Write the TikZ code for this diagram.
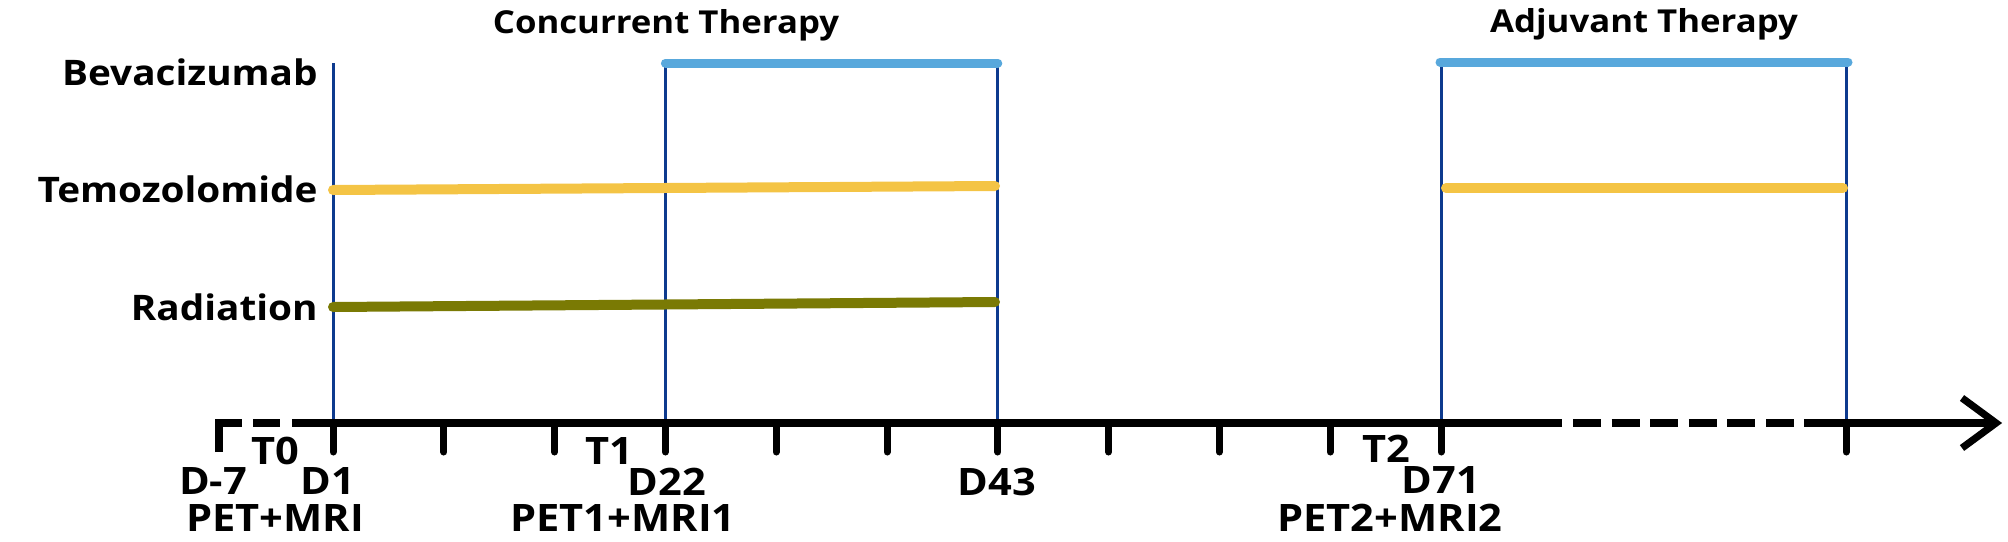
\documentclass[tikz,border=0pt]{standalone}
\usepackage{fontspec}
\setmainfont{Open Sans}
\newfontfamily\wfont{Open Sans}[FakeStretch=1.1]
\usetikzlibrary{calc}
\definecolor{navy}{HTML}{0D3A8E}
\definecolor{bevblue}{HTML}{58A8DC}
\definecolor{temyel}{HTML}{F4C445}
\definecolor{radolive}{HTML}{7A7A04}
\begin{document}
\begin{tikzpicture}[x=0.5pt,y=-0.5pt,
  lab/.style={anchor=base,inner sep=0pt,text depth=0pt,font=\wfont\fontsize{18.9pt}{20pt}\selectfont\bfseries},
  rowlab/.style={anchor=base east,inner sep=0pt,font=\wfont\fontsize{17.6pt}{19pt}\selectfont\bfseries},
  ttl/.style={anchor=base,inner sep=0pt,font=\wfont\fontsize{15.8pt}{17pt}\selectfont\bfseries},
  vline/.style={draw=navy,line width=1.5pt},
  axisline/.style={draw=black,line width=4pt},
  tickmark/.style={draw=black,line width=3.5pt,line cap=round},
  bar/.style={line width=4.5pt,line cap=round}]
\useasboundingbox (0,0) rectangle (2008,541);
% grid coordinates
\foreach \n/\x in {a/333,b/665.4,c/997.8,d/1441,e/1846}{
  \coordinate (top\n) at (\x,63);
  \coordinate (bot\n) at (\x,423);
}
% vertical lines
\foreach \n in {a,b,c,d,e}{ \draw[vline] (top\n) -- (bot\n); }
% bars
\draw[bar,draw=bevblue] (topb) -- (topc);
\coordinate (bl2) at (1440,62); \coordinate (br2) at (1848,62);
\draw[bar,draw=bevblue] (bl2) -- (br2);
\coordinate (tyl) at (333,190); \coordinate (tyr) at (995,186);
\draw[bar,line width=5pt,draw=temyel] (tyl) -- (tyr);
\coordinate (tyl2) at (1446,188); \coordinate (tyr2) at (1843,188);
\draw[bar,line width=5pt,draw=temyel] (tyl2) -- (tyr2);
\coordinate (ryl) at (333,307); \coordinate (ryr) at (995,302);
\draw[bar,line width=5pt,draw=radolive] (ryl) -- (ryr);
% axis
\coordinate (ax0) at (219,452);
\coordinate (ax1) at (219,423);
\coordinate (ax2) at (242,423);
\coordinate (ax3) at (253,423);
\coordinate (ax4) at (280,423);
\coordinate (ax5) at (292,423);
\coordinate (ax6) at (1562,423);
\coordinate (ax7) at (1573,423);
\coordinate (ax8) at (1804,423);
\coordinate (ax9) at (1996,423);
\draw[axisline,line join=miter] (ax0) -- (ax1) -- (ax2);
\draw[axisline] (ax3) -- (ax4);
\draw[axisline] (ax5) -- (ax6);
\draw[axisline,dash pattern=on 14pt off 5.3pt] (ax7) -- (ax8);
\draw[axisline] (ax8) -- (ax9);
\coordinate (arwA) at (1962,398);
\coordinate (arwB) at (1962,448);
\draw[draw=black,line width=3.6pt,line join=miter,miter limit=10] (arwA) -- (ax9) -- (arwB);
% ticks
\foreach \k in {0,...,10}{
  \coordinate (tk\k) at ({333+110.8*\k},423);
  \draw[tickmark] (tk\k) -- ++(0,29);
}
\draw[tickmark] (bote) -- ++(0,29);
% row labels
\node[rowlab] (bev) at (318,85) {Bevacizumab};
\node[rowlab] (tem) at (318,202) {Temozolomide};
\node[rowlab] (rad) at (318,320) {Radiation};
% titles
\node[ttl] (conc) at (666,33) {Concurrent Therapy};
\node[ttl] (adj) at (1644,32) {Adjuvant Therapy};
% axis labels
\node[lab] (t0) at (275,464) {T0};
\node[lab] (dm7) at (213,494) {D-7};
\node[lab] (d1) at (328,494) {D1};
\node[lab] (pm0) at (275,531) {PET+MRI};
\node[lab] (t1) at (609,464) {T1};
\node[lab] (d22) at (667,495) {D22};
\node[lab] (pm1) at (623,531) {PET1+MRI1};
\node[lab] (d43) at (997,495) {D43};
\node[lab] (t2) at (1386,462) {T2};
\node[lab] (d71) at (1441,493) {D71};
\node[lab] (pm2) at (1390,531) {PET2+MRI2};
\end{tikzpicture}
\end{document}
